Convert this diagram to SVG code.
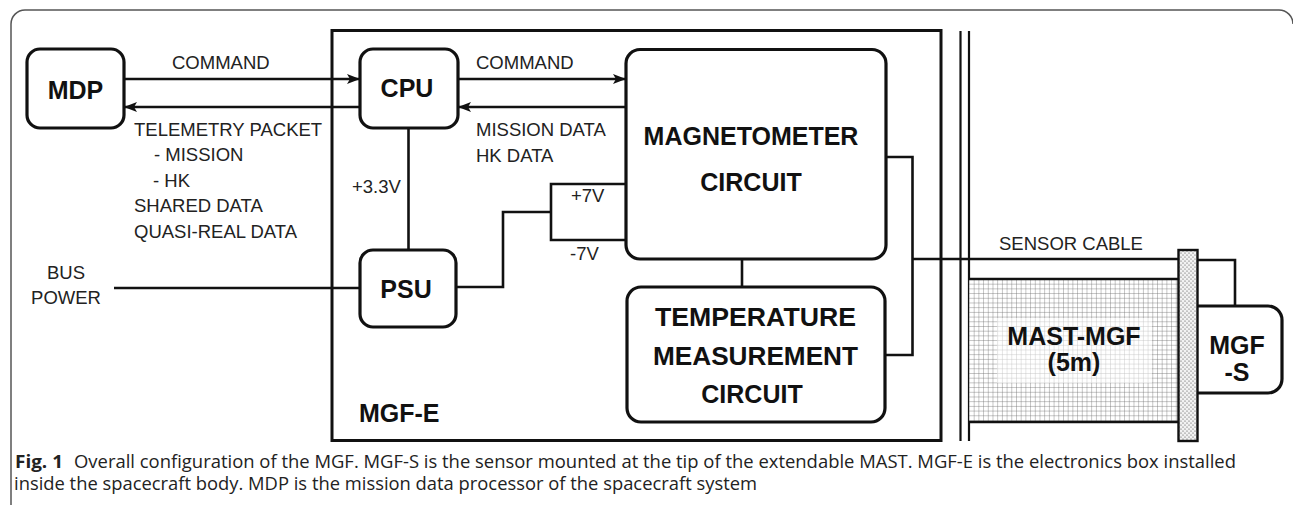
<svg xmlns="http://www.w3.org/2000/svg" width="1293" height="505" viewBox="0 0 1293 505">
<style>
.box{fill:#fff;stroke:#111;stroke-width:3.2}
.wire{fill:none;stroke:#111;stroke-width:2.6}
.lbl{font-family:"Liberation Sans",Arial,sans-serif;font-size:18.5px;fill:#222}
.big{font-family:"Liberation Sans",Arial,sans-serif;font-size:25px;font-weight:bold;fill:#111}
.cap{font-family:"Open Sans","Noto Sans",sans-serif;font-size:17.5px;fill:#222}
</style>
<defs>
<marker id="ah" markerUnits="userSpaceOnUse" markerWidth="14" markerHeight="12" refX="13" refY="5" orient="auto">
<path d="M0,0 L13,5 L0,10 L3,5 z" fill="#111"/>
</marker>
<pattern id="grid" patternUnits="userSpaceOnUse" width="4.7" height="4.7" x="969" y="279">
<rect width="4.7" height="4.7" fill="#fff"/>
<path d="M0,0 H4.7 M0,0 V4.7" stroke="#6e6e6e" stroke-width="0.8"/>
</pattern>
<pattern id="dots" patternUnits="userSpaceOnUse" width="4" height="4">
<rect width="4" height="4" fill="#f2f2f2"/>
<circle cx="1" cy="1" r="0.6" fill="#444"/>
<circle cx="3" cy="3" r="0.6" fill="#444"/>
</pattern>
</defs>
<rect width="1293" height="505" fill="#fff"/>
<path d="M11,505 V24 A14,14 0 0 1 25,10 H1279 A14,14 0 0 1 1293,24" fill="none" stroke="#555" stroke-width="1.5"/>

<g id="mgf-e">
<rect x="332" y="30.5" width="609" height="410" fill="none" stroke="#111" stroke-width="3"/>
<text class="big" x="359" y="422">MGF-E</text>
</g>

<g id="connectors">
<line class="wire" x1="124" y1="79" x2="360" y2="79" marker-end="url(#ah)"/>
<line class="wire" x1="360" y1="107" x2="124" y2="107" marker-end="url(#ah)"/>
<line class="wire" x1="458" y1="79" x2="626" y2="79" marker-end="url(#ah)"/>
<line class="wire" x1="626" y1="107" x2="458" y2="107" marker-end="url(#ah)"/>
<line class="wire" x1="408.5" y1="128" x2="408.5" y2="250"/>
<line class="wire" x1="114" y1="288" x2="360" y2="288"/>
<path class="wire" d="M456,287 H503 V212 H551"/>
<path class="wire" d="M626,184 H551 V240 H626"/>
<line class="wire" x1="742" y1="259" x2="742" y2="287"/>
<path class="wire" d="M886,157 H912.5 V355 H885"/>
<path class="wire" d="M912.5,259 H1178"/>
<path class="wire" d="M1198,260 H1235 V306"/>
<line x1="960.5" y1="31" x2="960.5" y2="441" stroke="#111" stroke-width="2.2"/>
<line x1="969" y1="31" x2="969" y2="441" stroke="#111" stroke-width="2.2"/>
</g>

<g id="mdp">
<rect class="box" x="27" y="49" width="97" height="79" rx="13"/>
<text class="big" x="75.5" y="99" text-anchor="middle">MDP</text>
</g>
<g id="cpu">
<rect class="box" x="360" y="49" width="98" height="79" rx="13"/>
<text class="big" x="407" y="97" text-anchor="middle">CPU</text>
</g>
<g id="psu">
<rect class="box" x="360" y="250" width="96" height="77" rx="13"/>
<text class="big" x="406" y="298" text-anchor="middle">PSU</text>
</g>
<g id="magnetometer">
<rect class="box" x="626" y="49.5" width="260" height="209.5" rx="14"/>
<text class="big" x="751" y="145" text-anchor="middle">MAGNETOMETER</text>
<text class="big" x="751" y="191" text-anchor="middle">CIRCUIT</text>
</g>
<g id="temperature">
<rect class="box" x="627" y="287" width="258" height="135" rx="14"/>
<text class="big" x="655" y="326" textLength="201" lengthAdjust="spacingAndGlyphs">TEMPERATURE</text>
<text class="big" x="653" y="365" textLength="205" lengthAdjust="spacingAndGlyphs">MEASUREMENT</text>
<text class="big" x="752" y="403" text-anchor="middle">CIRCUIT</text>
</g>
<g id="mast">
<rect x="969" y="279" width="209" height="143" fill="url(#grid)"/>
<rect x="997" y="318" width="155" height="65" fill="#fff" opacity="0.55"/>
<line x1="969" y1="279" x2="1179" y2="279" stroke="#111" stroke-width="2.6"/>
<line x1="969" y1="422" x2="1179" y2="422" stroke="#111" stroke-width="2.6"/>
<text class="big" x="1074" y="345" text-anchor="middle">MAST-MGF</text>
<text class="big" x="1074" y="371" text-anchor="middle">(5m)</text>
</g>
<g id="mgf-s">
<path d="M1197,306 H1268 A14,14 0 0 1 1282,320 V379 A14,14 0 0 1 1268,393 H1197" fill="#fff" stroke="#111" stroke-width="3.2"/>
<text class="big" x="1237" y="354" text-anchor="middle">MGF</text>
<text class="big" x="1237" y="381" text-anchor="middle">-S</text>
</g>
<g id="stipple">
<rect x="1178.5" y="250" width="19" height="191" fill="url(#dots)" stroke="#111" stroke-width="2.4"/>
</g>

<g id="labels">
<text class="lbl" x="172" y="69">COMMAND</text>
<text class="lbl" x="134" y="136">TELEMETRY PACKET</text>
<text class="lbl" x="154" y="161">- MISSION</text>
<text class="lbl" x="153" y="187">- HK</text>
<text class="lbl" x="134" y="212">SHARED DATA</text>
<text class="lbl" x="134" y="238">QUASI-REAL DATA</text>
<text class="lbl" x="476" y="69">COMMAND</text>
<text class="lbl" x="476" y="136">MISSION DATA</text>
<text class="lbl" x="476" y="162">HK DATA</text>
<text class="lbl" x="352" y="193">+3.3V</text>
<text class="lbl" x="571" y="202">+7V</text>
<text class="lbl" x="570" y="260">-7V</text>
<text class="lbl" x="66" y="279" text-anchor="middle">BUS</text>
<text class="lbl" x="66" y="304" text-anchor="middle">POWER</text>
<text class="lbl" x="999" y="250">SENSOR CABLE</text>
</g>

<g id="caption">
<text class="cap" x="15" y="468" font-weight="bold" textLength="48" lengthAdjust="spacingAndGlyphs">Fig. 1</text>
<text class="cap" x="74" y="468" textLength="1162" lengthAdjust="spacingAndGlyphs">Overall configuration of the MGF. MGF-S is the sensor mounted at the tip of the extendable MAST. MGF-E is the electronics box installed</text>
<text class="cap" x="14" y="490" textLength="743" lengthAdjust="spacingAndGlyphs">inside the spacecraft body. MDP is the mission data processor of the spacecraft system</text>
</g>
</svg>
